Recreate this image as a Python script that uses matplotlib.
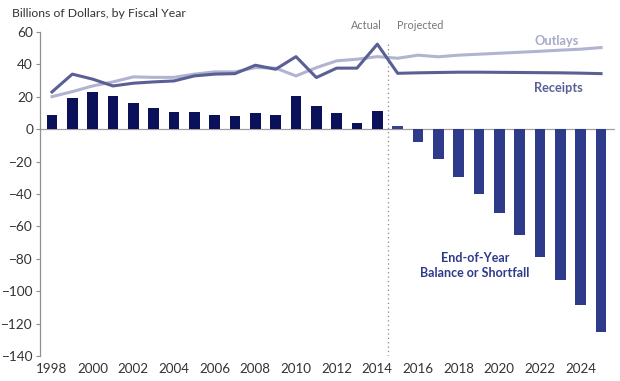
import numpy as np
import matplotlib
matplotlib.use('Agg')
import matplotlib.pyplot as plt

plt.rcParams['font.family'] = ['Lato', 'DejaVu Sans']

# Data (billions of dollars)
years = list(range(1998, 2026))
balance = [8.5, 19.3, 23.0, 20.5, 16.0, 13.3, 10.9, 10.9, 9.0, 8.3, 10.0, 9.0,
           20.7, 14.6, 9.7, 3.9, 11.5, 1.8, -8.2, -18.5, -29.2, -40.3, -52.0,
           -65.0, -78.8, -93.2, -108.6, -124.9]
receipts = [23.0, 34.0, 30.9, 26.7, 28.4, 29.2, 29.8, 32.9, 34.0, 34.3, 39.5, 37.0,
            44.8, 31.9, 37.7, 37.7, 52.5, 34.5, 34.8, 35.0, 35.2, 35.2, 35.1,
            35.0, 34.9, 34.8, 34.6, 34.3]
outlays = [20.1, 23.2, 26.7, 29.2, 32.3, 32.0, 32.0, 34.0, 35.4, 35.4, 38.0, 37.7,
           32.9, 38.0, 42.2, 43.2, 44.8, 43.8, 45.7, 44.7, 45.7, 46.3, 46.9,
           47.5, 48.1, 48.8, 49.4, 50.4]
yticks = list(range(-140, 61, 20))
xticks = list(range(1998, 2025, 2))

bar_colors = []
for y in years:
    if y <= 2014:
        bar_colors.append('#0b1159')
    elif y == 2015:
        bar_colors.append('#3a4290')
    else:
        bar_colors.append('#2e3a8a')

fig = plt.figure(figsize=(6.2, 3.81), dpi=100)
ax = fig.add_axes([0.0645, 0.0656, 0.9275, 0.8504])

ax.bar(years, balance, width=0.52, color=bar_colors, zorder=2)
ax.plot(years, outlays, color='#b1b4d0', lw=2.2, zorder=3)
ax.plot(years, receipts, color='#5a5f95', lw=2.2, zorder=4)

ax.axhline(0, color='#a0a0a0', lw=0.9, zorder=1)
ax.axvline(2014.5, ymin=0.0, ymax=0.97, color='#888888', lw=0.9, ls=(0, (1, 2.5)), zorder=1)

ax.set_xlim(1997.41, 2025.69)
ax.set_ylim(-140, 60)
ax.set_yticks(yticks)
ax.set_xticks(xticks)
ax.tick_params(axis='y', length=3, color='#909090', labelsize=9.8, labelcolor='#333333', pad=2)
ax.tick_params(axis='x', length=0, labelsize=9.6, labelcolor='#333333', pad=5)
for s in ['top', 'right', 'bottom']:
    ax.spines[s].set_visible(False)
ax.spines['left'].set_color('#909090')
ax.spines['left'].set_linewidth(0.9)

fig.text(0.019, 0.965, 'Billions of Dollars, by Fiscal Year', fontsize=8.8,
         color='#333333', va='center', ha='left')
ax.text(2014.2, 60.5, 'Actual', fontsize=7.8, color='#777777', ha='right', va='bottom')
ax.text(2014.95, 60.5, 'Projected', fontsize=7.8, color='#777777', ha='left', va='bottom')
ax.text(2022.84, 54.5, 'Outlays', fontsize=9.2, fontweight='bold', color='#a7aac8',
        ha='center', va='center')
ax.text(2022.9, 25.3, 'Receipts', fontsize=9.2, fontweight='bold', color='#5a5f95',
        ha='center', va='center')
ax.text(2018.8, -84, 'End-of-Year\nBalance or Shortfall', fontsize=9.0,
        fontweight='bold', color='#2e3a8a', ha='center', va='center', linespacing=1.35)

fig.savefig('out.png', dpi=100)
